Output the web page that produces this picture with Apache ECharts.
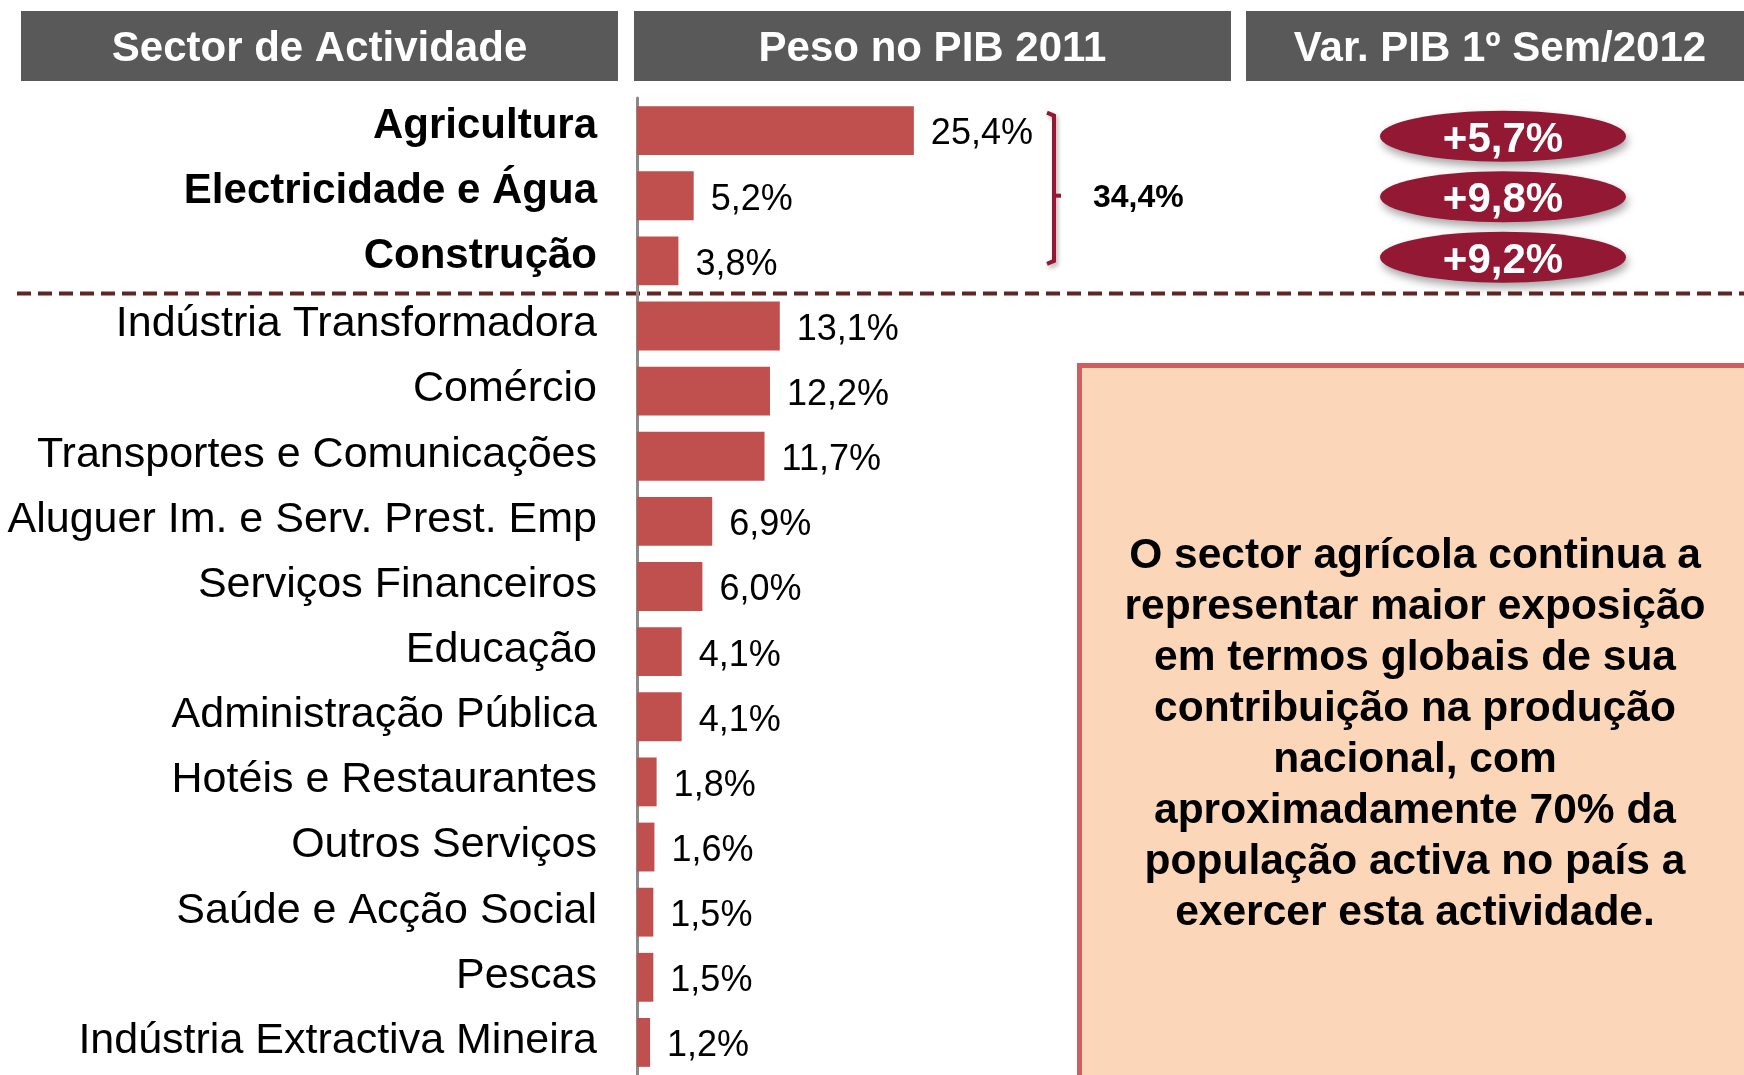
<!DOCTYPE html>
<html>
<head>
<meta charset="utf-8">
<script src="https://cdn.jsdelivr.net/npm/echarts@6/dist/echarts.min.js"></script>
<style>
  html, body { margin: 0; padding: 0; background: #ffffff; }
  #chart { width: 1744px; height: 1075px; }
</style>
</head>
<body>
<div id="chart"></div>
<script>
var sectors = [
    'Agricultura', 'Electricidade e Água', 'Construção',
    'Indústria Transformadora', 'Comércio', 'Transportes e Comunicações',
    'Aluguer Im. e Serv. Prest. Emp', 'Serviços Financeiros', 'Educação',
    'Administração Pública', 'Hotéis e Restaurantes', 'Outros Serviços',
    'Saúde e Acção Social', 'Pescas', 'Indústria Extractiva Mineira'
];
var pesoPib2011 = [25.4, 5.2, 3.8, 13.1, 12.2, 11.7, 6.9, 6.0, 4.1, 4.1, 1.8, 1.6, 1.5, 1.5, 1.2];
var varPib2012 = [5.7, 9.8, 9.2];
var headers = ['Sector de Actividade', 'Peso no PIB 2011', 'Var. PIB 1º Sem/2012'];
var noteText = 'O sector agrícola continua a\nrepresentar maior exposição\nem termos globais de sua\ncontribuição na produção\nnacional, com\naproximadamente 70% da\npopulação activa no país a\nexercer esta actividade.';

var FONT = '"Liberation Sans", Arial, sans-serif';
var BAR_COLOR = '#c0504d';
var CRIMSON = '#931834';

function pctText(v, sign) {
    return (sign ? '+' : '') + v.toFixed(1).replace('.', ',') + '%';
}

var chart = echarts.init(document.getElementById('chart'));

var option = {
    backgroundColor: '#ffffff',
    animation: false,
    grid: [
        { left: 637, top: 98, width: 545, height: 984 },
        { left: 1262, right: 0, top: 106, height: 907 }
    ],
    xAxis: [
        { gridIndex: 0, type: 'value', min: 0, max: 50, show: false },
        { gridIndex: 1, type: 'category', data: ['var'], show: false }
    ],
    yAxis: [
        {
            gridIndex: 0,
            type: 'category',
            data: sectors,
            inverse: true,
            axisTick: { show: false },
            axisLine: { show: true, lineStyle: { color: '#8a8a8a', width: 3 } },
            axisLabel: {
                margin: 40,
                formatter: function (value, index) {
                    return (index < 3 ? '{b|' : '{n|') + value + '}';
                },
                rich: {
                    b: { fontFamily: FONT, fontSize: 42, fontWeight: 'bold', color: '#000', padding: [0, 0, 8, 0] },
                    n: { fontFamily: FONT, fontSize: 43, color: '#000', padding: [0, 0, 3, 0] }
                }
            }
        },
        {
            gridIndex: 1,
            type: 'category',
            data: sectors,
            inverse: true,
            show: false
        }
    ],
    series: [
        {
            type: 'bar',
            xAxisIndex: 0,
            yAxisIndex: 0,
            data: pesoPib2011,
            barCategoryGap: '25%',
            itemStyle: { color: BAR_COLOR },
            label: {
                show: true,
                position: 'right',
                distance: 17,
                offset: [0, 4],
                fontFamily: FONT,
                fontSize: 36,
                color: '#000',
                formatter: function (p) { return pctText(p.value, false); }
            }
        },
        {
            type: 'scatter',
            xAxisIndex: 1,
            yAxisIndex: 1,
            symbol: 'circle',
            symbolSize: [246, 51],
            data: varPib2012.map(function (v, i) { return ['var', sectors[i], v]; }),
            itemStyle: {
                color: CRIMSON,
                opacity: 1,
                shadowBlur: 8,
                shadowOffsetX: 2,
                shadowOffsetY: 5,
                shadowColor: 'rgba(0,0,0,0.35)'
            },
            emphasis: { disabled: true },
            label: {
                show: true,
                position: 'inside',
                offset: [0, 4],
                fontFamily: FONT,
                fontSize: 42,
                fontWeight: 'bold',
                color: '#ffffff',
                formatter: function (p) { return pctText(p.value[2], true); }
            }
        }
    ]
};

chart.setOption(option);

// header boxes, divider, bracket and note box
var cy = function (i) { return chart.convertToPixel({ yAxisIndex: 0 }, i); };
var divY = (cy(2) + cy(3)) / 2;
var brTop = cy(0) - 18;
var brBot = cy(2) + 3;
var brMid = cy(1);
var brX = 1054;
var topSum = pesoPib2011[0] + pesoPib2011[1] + pesoPib2011[2];

var headerBoxes = [[21, 597], [634, 597], [1246, 520]];
var graphics = [];

headerBoxes.forEach(function (b, i) {
    graphics.push({
        type: 'rect',
        shape: { x: b[0], y: 11, width: b[1], height: 70 },
        style: { fill: '#595959' }
    });
    graphics.push({
        type: 'text',
        x: i === 2 ? 1500 : b[0] + b[1] / 2,
        y: 49,
        style: {
            text: headers[i],
            fontFamily: FONT,
            fontSize: 42,
            fontWeight: 'bold',
            fill: '#ffffff',
            align: 'center',
            verticalAlign: 'middle'
        }
    });
});

graphics.push({
    type: 'line',
    shape: { x1: 17, y1: divY, x2: 1744, y2: divY },
    style: { stroke: '#632523', lineWidth: 4, lineDash: [14, 7] }
});

graphics.push({
    type: 'polyline',
    shape: { points: [[brX - 7, brTop], [brX, brTop + 3], [brX, brBot - 3], [brX - 7, brBot]] },
    style: { stroke: CRIMSON, lineWidth: 4, fill: null, shadowBlur: 4, shadowOffsetX: 2, shadowOffsetY: 3, shadowColor: 'rgba(0,0,0,0.3)' }
});
graphics.push({
    type: 'line',
    shape: { x1: brX, y1: brMid, x2: brX + 7, y2: brMid },
    style: { stroke: CRIMSON, lineWidth: 4 }
});
graphics.push({
    type: 'text',
    x: 1093,
    y: brMid + 2,
    style: {
        text: pctText(topSum, false),
        fontFamily: FONT,
        fontSize: 32,
        fontWeight: 'bold',
        fill: '#000',
        align: 'left',
        verticalAlign: 'middle'
    }
});

graphics.push({
    type: 'rect',
    shape: { x: 1079.5, y: 365.5, width: 700, height: 760 },
    style: { fill: '#fbd6b9', stroke: '#cd5f5f', lineWidth: 5 }
});
graphics.push({
    type: 'text',
    x: 1415,
    y: 735,
    style: {
        text: noteText,
        fontFamily: FONT,
        fontSize: 42.5,
        fontWeight: 'bold',
        lineHeight: 51,
        fill: '#000',
        align: 'center',
        verticalAlign: 'middle'
    }
});

chart.setOption({ graphic: graphics });
</script>
</body>
</html>
